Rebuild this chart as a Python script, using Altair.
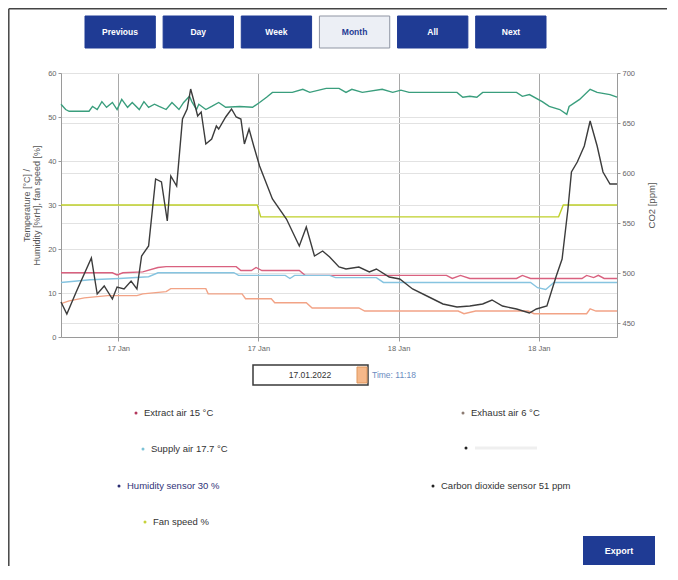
import altair as alt
import pandas as pd

FONT = "Liberation Sans"

# ---------------- data ----------------
buttons = ["Previous", "Day", "Week", "Month", "All", "Next"]
active_button = "Month"

tick_hours = [4.9, 16.9, 28.9, 40.9]
tick_labels = ["17 Jan", "17 Jan", "18 Jan", "18 Jan"]
left_ticks = [0, 10, 20, 30, 40, 50, 60]
right_ticks = [450, 500, 550, 600, 650, 700]

# humidity (green, left axis)
hum_h = [0, 0.4, 0.7, 2.4, 2.7, 3.1, 3.5, 3.9, 4.4, 4.8, 5.2, 5.7, 6.1, 6.7, 7.1, 7.5, 8.0, 8.4, 9.0, 9.5,
         10.1, 10.5, 11.0, 11.2, 11.6, 11.8, 12.4, 12.9, 13.5, 14.1, 15.3, 16.4, 17.0, 17.6, 18.1, 19.8, 20.7,
         21.3, 22.7, 23.8, 24.4, 24.9, 25.8, 27.5, 28.4, 29.1, 29.8, 33.9, 34.4, 35.0, 35.6, 36.1, 39.0, 39.5,
         40.1, 41.2, 41.8, 42.7, 43.3, 43.5, 44.4, 45.3, 45.9, 47.0, 47.6]
hum_v = [52.9, 51.7, 51.3, 51.3, 52.4, 51.7, 53.5, 52.2, 53.3, 51.7, 54.0, 52.2, 53.3, 51.7, 53.5, 52.2, 52.9,
         52.4, 51.7, 53.3, 51.7, 53.3, 54.7, 53.5, 51.7, 52.9, 51.7, 52.4, 53.3, 52.2, 52.4, 52.2, 53.3, 54.5,
         55.6, 55.6, 56.3, 55.6, 56.5, 56.5, 55.6, 56.3, 55.6, 56.3, 55.6, 56.1, 55.6, 55.6, 54.5, 54.7, 54.5,
         55.6, 55.6, 54.7, 55.1, 53.5, 52.4, 51.7, 50.6, 52.4, 54.0, 56.3, 55.6, 55.1, 54.5]

# fan speed (yellow-green, left axis)
fan_h = [0, 16.8, 17.1, 42.6, 43.0, 47.6]
fan_v = [30, 30, 27.3, 27.3, 30, 30]

# extract air (pink, left axis)
ext_h = [0, 4.4, 4.8, 5.3, 7.0, 8.3, 9.0, 15.0, 15.4, 16.3, 16.7, 17.2, 20.4, 20.9, 33.0, 33.5, 34.2, 35.0,
         39.0, 39.5, 40.2, 44.6, 45.0, 45.6, 46.0, 46.5, 47.6]
ext_v = [14.6, 14.6, 14.1, 14.6, 14.8, 15.8, 16.0, 16.0, 15.1, 15.1, 15.8, 15.1, 15.1, 14.0, 14.0, 13.3, 14.0,
         13.3, 13.3, 14.0, 13.3, 13.3, 14.0, 13.5, 14.0, 13.3, 13.3]

# supply air (light blue, left axis)
sup_h = [0, 2.5, 5.0, 7.5, 8.3, 14.8, 15.2, 19.2, 19.6, 20.0, 23.0, 23.5, 27.0, 27.6, 40.2, 40.8, 41.5, 42.2, 47.6]
sup_v = [12.4, 13.0, 13.3, 13.7, 14.6, 14.6, 14.0, 14.0, 13.3, 14.0, 14.0, 13.5, 13.5, 12.4, 12.4, 11.2, 10.8,
         12.4, 12.4]

# exhaust air (salmon, left axis)
exh_h = [0, 0.7, 2.0, 4.0, 6.5, 7.0, 9.0, 9.4, 12.4, 12.6, 15.5, 15.8, 18.0, 18.3, 21.0, 21.5, 25.5, 26.0,
         34.0, 34.5, 35.5, 36.5, 40.0, 40.5, 45.0, 45.3, 45.8, 47.6]
exh_v = [7.6, 8.2, 8.9, 9.4, 9.4, 9.8, 10.3, 11.0, 11.0, 9.8, 9.8, 8.7, 8.7, 7.8, 7.8, 6.6, 6.6, 5.9, 5.9,
         5.3, 5.9, 5.9, 5.9, 5.3, 5.3, 6.4, 5.9, 5.9]

# CO2 (dark, right axis)
co2_h = [0, 0.5, 1.3, 2.6, 3.1, 3.7, 4.4, 4.8, 5.4, 6.0, 6.5, 6.9, 7.5, 8.1, 8.6, 9.1, 9.4, 9.9, 10.4, 10.8,
         11.1, 11.4, 11.7, 12.0, 12.4, 12.9, 13.3, 13.5, 14.1, 14.6, 15.0, 15.4, 15.7, 16.1, 16.5, 17.0, 18.1,
         19.3, 20.4, 21.0, 21.7, 22.4, 23.0, 23.8, 24.4, 25.5, 26.4, 27.0, 28.1, 29.0, 30.1, 31.5, 32.7, 33.9,
         35.0, 36.1, 36.9, 37.8, 39.0, 40.1, 40.7, 41.6, 42.4, 42.9, 43.4, 43.7, 44.2, 44.8, 45.3, 45.9, 46.4,
         47.0, 47.6]
co2_v = [471, 459, 481, 515, 479, 487, 474, 486, 484, 492, 484, 517, 527, 594, 591, 552, 597, 587, 654, 664,
         684, 671, 657, 661, 629, 634, 647, 644, 656, 664, 656, 654, 629, 644, 627, 607, 574, 554, 527, 546,
         517, 522, 516, 506, 504, 506, 501, 504, 496, 494, 484, 476, 469, 466, 467, 469, 473, 467, 464, 460,
         464, 467, 497, 514, 564, 601, 611, 627, 652, 627, 601, 589, 589]

series_names = ["Humidity", "Fan speed", "Extract air", "Supply air", "Exhaust air"]
series_colors = ["#3a9e7d", "#bfd02a", "#d9617f", "#86c4e0", "#f2a386"]

legend_labels = ["Extract air  15 °C", "Supply air  17.7 °C", "Humidity sensor  30 %", "Fan speed  %",
                 "Exhaust air  6 °C", "", "Carbon dioxide sensor  51 ppm"]
legend_bullet_colors = ["#b3385c", "#7cc2d6", "#2b2d72", "#c6d23a", "#8c7b72", "#222222", "#222222"]
legend_text_colors = ["#333333", "#333333", "#2f3278", "#333333", "#333333", "#333333", "#333333"]

date_text = "17.01.2022"
time_text = "Time: 11:18"
export_text = "Export"

# ---------------- layout (pixels, relative to plot area) ----------------
W, H = 556, 264
PAD = {"left": 53, "top": 65, "right": 50, "bottom": 229}
legend_x = [75, 82, 58, 84, 402, 405, 372]
legend_y = [340, 376, 413, 449, 340, 375, 413]

# ---------------- tables ----------------
rows = []
for name, hs, vs in [("Humidity", hum_h, hum_v), ("Fan speed", fan_h, fan_v), ("Extract air", ext_h, ext_v),
                     ("Supply air", sup_h, sup_v), ("Exhaust air", exh_h, exh_v)]:
    for h, v in zip(hs, vs):
        rows.append({"series": name, "h": h, "v": v})
left_df = pd.DataFrame(rows)
co2_df = pd.DataFrame({"h": co2_h, "v": co2_v})
btn_df = pd.DataFrame({"label": buttons,
                       "state": ["active" if b == active_button else "normal" for b in buttons]})
leg_df = pd.DataFrame({"label": legend_labels, "bullet": legend_bullet_colors, "tcolor": legend_text_colors,
                       "lx": legend_x, "ly": legend_y})
one = pd.DataFrame({"k": [0]})

label_expr = "{}[floor((datum.value - {}) / 12 + 0.5)]".format(
    "[" + ",".join("'" + t + "'" for t in tick_labels) + "]", tick_hours[0])

x_axis = alt.Axis(values=tick_hours, labelExpr=label_expr, title=None, grid=True, gridColor="#a9a9a9",
                  gridWidth=1, domainColor="#9a9a9a", tickColor="#9a9a9a", tickSize=4, labelFontSize=7.5,
                  labelColor="#666666", labelPadding=3, labelFont=FONT)
x_enc = alt.X("h:Q", scale=alt.Scale(domain=[0, 47.6], nice=False, zero=False), axis=x_axis)

left = alt.Chart(left_df).mark_line(strokeWidth=1.4).encode(
    x=x_enc,
    y=alt.Y("v:Q", scale=alt.Scale(domain=[0, 60], nice=False),
            axis=alt.Axis(values=left_ticks, title=["Temperature [°C] /", "Humidity [%rH], fan speed [%]"],
                          titleFontSize=9, titleFontWeight="normal", titleColor="#555555", titlePadding=6,
                          titleFont=FONT, titleLineHeight=10,
                          grid=True, gridColor="#e2e2e2", domainColor="#9a9a9a", tickColor="#9a9a9a",
                          tickSize=3, labelFontSize=7.5, labelColor="#666666", labelPadding=2, labelFont=FONT)),
    color=alt.Color("series:N", scale=alt.Scale(domain=series_names, range=series_colors), legend=None),
)

co2 = alt.Chart(co2_df).mark_line(strokeWidth=1.4, color="#3c3c3c").encode(
    x=x_enc,
    y=alt.Y("v:Q", scale=alt.Scale(domain=[436, 700], nice=False, zero=False),
            axis=alt.Axis(orient="right", values=right_ticks, title="CO2 [ppm]", titleAngle=270,
                          titleBaseline="top", titleFontSize=9.5, titleFontWeight="normal",
                          titleColor="#555555", titlePadding=12, titleFont=FONT,
                          grid=True, gridColor="#e2e2e2", domainColor="#9a9a9a", tickColor="#9a9a9a",
                          tickSize=3, labelFontSize=7.5, labelColor="#666666", labelPadding=2, labelFont=FONT)),
)

main = alt.layer(left, co2).resolve_scale(y="independent")

btn_rect = alt.Chart(btn_df).mark_rect(strokeWidth=1).encode(
    x=alt.X("label:N", sort=buttons,
            scale=alt.Scale(type="band", range=[24, 485], paddingInner=0.1, paddingOuter=0), axis=None),
    y=alt.value(-57), y2=alt.value(-25),
    color=alt.Color("state:N", scale=alt.Scale(domain=["normal", "active"], range=["#1f3b94", "#eceff5"]),
                    legend=None),
    stroke=alt.Stroke("state:N", scale=alt.Scale(domain=["normal", "active"], range=["#1f3b94", "#8f95a3"]),
                      legend=None),
)
btn_text = alt.Chart(btn_df).mark_text(fontSize=8.5, fontWeight="bold", font=FONT, baseline="middle").encode(
    x=alt.X("label:N", sort=buttons, scale=alt.Scale(type="point", range=[59, 450], padding=0), axis=None),
    y=alt.value(-41),
    text="label:N",
    color=alt.Color("state:N", scale=alt.Scale(domain=["normal", "active"], range=["#ffffff", "#1f3b94"]),
                    legend=None),
)

leg_dots = alt.Chart(leg_df).mark_circle(size=9, opacity=1).encode(
    x=alt.X("lx:Q", scale=None, axis=None), y=alt.Y("ly:Q", scale=None, axis=None),
    color=alt.Color("bullet:N", scale=None),
)
leg_text = alt.Chart(leg_df).mark_text(align="left", baseline="middle", dx=8, fontSize=9.5, font=FONT).encode(
    x=alt.X("lx:Q", scale=None, axis=None), y=alt.Y("ly:Q", scale=None, axis=None),
    text="label:N", color=alt.Color("tcolor:N", scale=None),
)
blank_field = alt.Chart(one).mark_rule(color="#efefef", strokeWidth=3).encode(
    x=alt.value(414), x2=alt.value(476), y=alt.value(375))

date_box = alt.Chart(one).mark_rect(fill="#ffffff", stroke="#3a3a3a", strokeWidth=1.5).encode(
    x=alt.value(192), x2=alt.value(307), y=alt.value(292), y2=alt.value(312))
date_btn = alt.Chart(one).mark_rect(fill="#f5b88a", stroke="#e0975c", strokeWidth=1).encode(
    x=alt.value(296), x2=alt.value(306), y=alt.value(294), y2=alt.value(310))
date_lbl = alt.Chart(one).mark_text(text=date_text, fontSize=8.5, font=FONT, color="#333333",
                                    baseline="middle").encode(x=alt.value(249), y=alt.value(302))
time_lbl = alt.Chart(one).mark_text(text=time_text, fontSize=8.5, font=FONT, color="#6a8cc0", align="left",
                                    baseline="middle").encode(x=alt.value(311), y=alt.value(302))

exp_rect = alt.Chart(one).mark_rect(fill="#1f3b94").encode(
    x=alt.value(522), x2=alt.value(594), y=alt.value(463), y2=alt.value(492))
exp_text = alt.Chart(one).mark_text(text=export_text, fontSize=9, fontWeight="bold", font=FONT,
                                    color="#ffffff", baseline="middle").encode(x=alt.value(558), y=alt.value(477.5))

frame_left = alt.Chart(one).mark_rule(color="#444444", strokeWidth=1.5).encode(
    x=alt.value(-52.2), y=alt.value(-64.2), y2=alt.value(H + PAD["bottom"]))
frame_top = alt.Chart(one).mark_rule(color="#444444", strokeWidth=1.5).encode(
    x=alt.value(-52.2), x2=alt.value(W + PAD["right"]), y=alt.value(-64.2))

chart = alt.layer(
    main, btn_rect, btn_text, leg_dots, leg_text, blank_field,
    date_box, date_btn, date_lbl, time_lbl, exp_rect, exp_text, frame_left, frame_top,
).resolve_scale(x="independent", y="independent", color="independent", stroke="independent").properties(
    width=W, height=H, autosize=alt.AutoSizeParams(type="none"), padding=PAD, background="#ffffff",
).configure_view(strokeWidth=0)

chart.save("out.html", embed_options={"renderer": "svg", "actions": False})
